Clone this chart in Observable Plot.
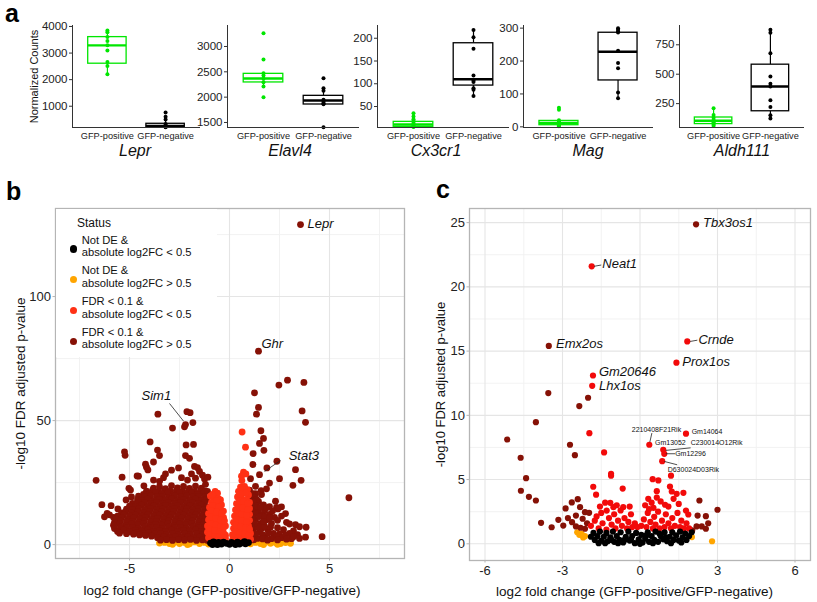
<!DOCTYPE html>
<html><head><meta charset="utf-8">
<script src="https://cdn.jsdelivr.net/npm/d3@7"></script>
<script src="https://cdn.jsdelivr.net/npm/@observablehq/plot@0.6"></script>
<style>
body{margin:0;background:#fff;font-family:"Liberation Sans",Arial,Helvetica,sans-serif;}
#root{position:relative;width:817px;height:602px;overflow:hidden;background:#fff;}
#root svg{position:absolute;}
</style></head><body><div id="root"></div>
<script>
// ---------------- DATA: panel a ----------------
const genes = ["Lepr","Elavl4","Cx3cr1","Mag","Aldh111"];
const groups = ["GFP-positive","GFP-negative"];
const yLabelA = "Normalized Counts";
// box stats: [lower whisker, q1, median, q3, upper whisker]
const boxPos = [[2200,2600,3290,3600,3850],[2210,2290,2368,2460,2473],[5,5.4,10.6,16.3,28],[2,5,12,18,20],[60,76,104,132,210]];
const boxNeg = [[210,212,260,340,500],[1855,1855,1934,2026,2178],[73,96,110,189,218],[87,141,228,286,300],[123,185,396,581,877]];
const ptsPos = [[3850,3780,3600,3450,3290,3100,2660,2510,2200],[3263,2743,2473,2427,2362,2296,2210,1999],[35,28,22,18,14,11,8,6,5],[58,52,20,16,12,10,8,5,2],[210,153,130,110,100,90,80,70,60]];
const ptsNeg = [[765,600,500,330,280,250,230,215,212],[2375,2178,2126,1947,1910,1880,1860,1408],[218,202,177,118,107,104,90,87,73],[300,295,290,287,231,194,178,104,87],[877,852,679,481,419,396,278,221,151,123]];
const yTicksA = [[1000,2000,3000,4000],[1500,2000,2500,3000],[50,100,150,200],[0,100,200,300],[250,500,750]];
const yDomainsA = [[200,4037],[1401,3414],[3.9,228],[-2,308],[47,914]];

// ---------------- DATA: panel b ----------------
const statusLabels = [["Not DE &","absolute log2FC < 0.5"],["Not DE &","absolute log2FC > 0.5"],["FDR < 0.1 &","absolute log2FC < 0.5"],["FDR < 0.1 &","absolute log2FC > 0.5"]];
const bBlack = [[-0.95,0.6],[-0.8,1.1],[-0.7,0.3],[-0.55,0.9],[-0.4,0.2],[-0.3,1.0],[-0.15,0.5],[0.0,0.1],[0.1,0.9],[0.25,0.4],[0.4,1.0],[0.5,0.2],[0.65,0.7],[0.8,0.3],[0.95,0.8],[-0.6,0.0],[0.3,0.0],[0.75,1.2],[-0.85,0.0]];
const bOrange = [[-3.5,0.6],[-3.25,0.9],[-3.0,0.4],[-2.75,1.0],[-2.5,0.4],[-2.25,0.9],[-2.0,0.3],[-1.75,1.1],[-1.5,0.4],[-1.25,0.9],[-1.05,0.2],[-2.85,0.1],[-2.1,0.0],[1.05,0.3],[1.3,0.9],[1.55,0.4],[1.8,1.0],[2.05,0.5],[2.3,0.9],[2.55,0.4],[2.8,0.8],[3.05,0.5],[1.7,0.0],[2.4,0.1]];
const bRed = [[-0.72,21.5],[-0.6,20.7],[-0.8,19],[-0.55,18.5],[-0.95,19.5],[-0.45,18],[-0.9,17],[-0.65,16.5],[-0.4,16],[-1.0,15],[-0.75,14.5],[-0.5,14],[-0.3,13.5],[-1.05,12.5],[-0.8,12],[-0.55,11.5],[-0.3,11],[-1.05,10],[-0.85,9.5],[-0.6,9],[-0.35,8.5],[-0.2,7.5],[-1.1,7.5],[-0.85,7],[-0.6,6.5],[-0.4,6],[-1.1,5],[-0.9,4.5],[-0.65,4],[-0.4,3.5],[-0.2,3.8],[-1.05,2.8],[-0.8,2.3],[-0.55,2],
[-0.85,20.2],[-0.65,17.6],[-0.85,15.8],[-0.55,15.2],[-0.9,13.6],[-0.65,13.2],[-0.4,12.5],[-0.95,11.2],[-0.7,10.6],[-0.45,10],[-0.25,9.6],[-0.95,8.3],[-0.7,7.8],[-0.45,7.2],[-0.3,6.8],[-1.0,6.2],[-0.75,5.7],[-0.5,5],[-0.3,4.8],[-1.0,3.8],[-0.75,3.3],[-0.55,3],[-0.3,2.6],[-0.95,1.9],[-0.65,1.6],[-0.4,1.6],[-0.2,2.4],
[0.63,45.4],[0.8,39.3],[0.7,29.2],[0.82,28.5],[0.6,27.6],[0.62,25.8],[0.55,23.2],[0.75,23.5],[0.9,22.2],[0.45,21.5],[0.7,21],[0.95,20],[0.4,19.2],[0.6,18.6],[0.85,18.2],[1.0,17],[0.35,16.5],[0.55,16],[0.8,15.5],[1.0,14.6],[0.3,14],[0.5,13.5],[0.75,13],[1.0,12.2],[0.25,11.5],[0.5,11],[0.75,10.5],[1.0,9.8],[0.2,9],[0.45,8.5],[0.7,8],[0.95,7.5],[0.2,6.5],[0.4,6],[0.65,5.5],[0.9,5],[1.05,4.5],[0.15,4],[0.35,3.5],[0.6,3],[0.85,2.8],[1.05,2.2],[0.25,2.2],[0.5,2],
[0.65,22.3],[0.8,20.8],[0.55,20.3],[0.5,17.6],[0.7,17.3],[0.9,16.5],[0.45,15],[0.65,14.8],[0.9,14],[0.4,12.6],[0.6,12.2],[0.85,11.8],[0.35,10.2],[0.6,9.6],[0.85,9],[0.3,7.8],[0.55,7.2],[0.8,6.8],[1.0,6.2],[0.3,5.2],[0.5,4.6],[0.75,4.2],[0.95,3.6],[0.2,3],[0.45,2.6],[0.7,1.8],[0.95,1.6],[0.15,1.7],[0.35,1.5]];
const bDarkRed = [[3.55,129],[1.45,78],[2.47,64.3],[2.9,66.3],[3.72,65.4],[1.25,61.2],[1.45,55.3],[1.35,52.6],[3.63,53.9],[3.8,49.3],[1.57,45.9],[1.7,42.8],[1.5,40.8],[1.72,38],[1.18,36.7],[2.37,33.6],[1.17,32.3],[1.87,30.9],[3.3,30.2],[1.5,28.2],[1.05,26.6],[2.5,26.6],[3.58,25.9],[3.17,23.9],[5.97,18.9],[3.83,7],[3.8,3],[4.63,3.2],[2.0,24.8],[1.58,21.8],
[1.3,23.5],[1.85,22.5],[1.0,22],[1.3,20.5],[1.6,20.2],[1.25,19],[2.3,17.5],[1.05,18],[1.45,17.4],[1.7,16],[1.1,16],[2.0,15.3],[2.35,15],[2.6,15.2],[1.2,14],[1.45,13.2],[2.42,14.4],[1.75,13.5],[2.8,12.5],[1.1,12],[1.6,11.8],[2.0,12.2],[2.25,11],[2.6,11.5],[1.3,10],[1.85,10],[1.15,9],[1.55,8.5],[2.1,8.5],[2.85,9],[3.0,8.3],[3.3,8],[3.5,7.2],[1.0,8],[2.4,6.8],[1.9,6.2],[1.2,6],[1.6,6.5],[2.7,6],[3.2,5.5],[1.5,5],[2.2,4.5],[2.5,4.3],[3.0,4.5],[3.4,4],[1.1,3.5],[1.8,3.2],[1.4,2.5],[2.1,2.4],[2.6,2.8],[3.5,2.5],[3.1,2.4],
[1.15,20.5],[1.35,18.2],[1.2,17.2],[1.35,15.5],[1.55,15],[1.85,14.8],[1.3,12.5],[1.5,11.3],[1.75,11.2],[2.15,13.5],[1.4,7.2],[1.75,7.5],[2.05,7],[1.3,4.2],[1.65,4],[1.95,4.8],[2.35,3.2],[2.8,3.8],[1.25,8.5],[1.7,9.3],[2.4,9.8],[2.0,10.8],[1.15,10.8],[1.05,13.5],[1.05,5.5],[1.1,7],[1.65,2.3],[2.85,2.2],[1.2,1.9],[1.9,1.8],[2.4,1.9],[3.2,3.2],
[-6.67,25.9],[-6.38,16.1],[-6.12,12.6],[-5.92,15.7],[-5.58,14.4],[-5.37,27.2],[-5.22,36],[-5.25,37.4],[-4.95,22],[-4.55,27.6],[-4.15,31.2],[-4.2,32.4],[-3.97,41.4],[-3.6,38.1],[-3.5,35.9],[-3.8,33.3],[-4.08,30.1],[-3.58,52.6],[-2.85,47],[-2.13,53.6],[-1.97,53.2],[-2.2,48.4],[-2.25,47.5],[-1.83,49.2],[-2.17,40.2],[-1.8,40.4],[-2.2,35.9],[-2.0,34.8],[-2.55,30.9],[-1.75,31.5],[-1.6,31],[-1.5,29.5],[-1.35,28],[-1.25,26.5],[-1.08,27.2],[-3.8,26],[-3.5,25.5],[-3.3,27],[-4.62,27.7],[-5.03,22.7],[-4.28,23.7],[-5.17,18],[-4.9,19.2],[-6.0,12],[-5.8,11],[-6.25,11.2],[-2.9,30],[-3.2,28.5],[-2.4,27],[-2.1,26],[-1.9,28.5],[-1.7,26.8],
[-3.8,22.8],[-3.5,23.4],[-3.2,22.6],[-2.9,23.8],[-2.6,22.9],[-2.3,23.5],[-2.0,22.7],[-1.7,23.6],[-1.4,22.8],[-1.2,24.3],
[-4.15,21.6],[-3.85,21.9],[-3.55,21.5],[-3.25,22.0],[-2.95,21.6],[-2.65,21.9],[-2.35,21.5],[-2.05,21.8],[-1.75,21.4],[-1.45,21.9],[-1.2,21.6],
[-4.3,20.2],[-4.0,20.3],[-3.7,21],[-3.4,20.4],[-3.1,20.8],[-2.8,20.1],[-2.5,20.9],[-2.2,20.3],[-1.9,20.8],[-1.6,20.2],[-1.3,20.7],[-1.1,21.5],
[-4.55,19.5],[-4.25,19.1],[-3.95,19.6],[-3.65,19.2],[-3.35,19.4],[-3.05,19.0],[-2.75,19.5],[-2.45,19.2],[-2.15,19.6],[-1.85,19.1],[-1.55,19.4],[-1.25,19.2],
[-4.6,18.0],[-4.4,17.8],[-4.1,18.3],[-3.8,17.6],[-3.5,18.2],[-3.2,17.9],[-2.9,18.4],[-2.6,17.7],[-2.3,18.1],[-2.0,17.6],[-1.7,18.3],[-1.4,17.8],[-1.15,18.2],
[-4.85,16.6],[-4.55,17.0],[-4.25,16.9],[-3.95,16.6],[-3.65,17.0],[-3.35,16.5],[-3.05,16.9],[-2.75,16.6],[-2.45,17.0],[-2.15,16.5],[-1.85,16.9],[-1.55,16.6],[-1.25,17.0],
[-5.0,15.5],[-4.7,15.3],[-4.4,15.9],[-4.1,15.1],[-3.8,15.6],[-3.5,15.2],[-3.2,15.8],[-2.9,15.3],[-2.6,15.7],[-2.3,15.1],[-2.0,15.6],[-1.7,15.2],[-1.4,15.9],[-1.15,15.3],
[-5.15,14.3],[-4.85,14.1],[-4.55,14.4],[-4.25,14.0],[-3.95,14.5],[-3.65,14.1],[-3.35,14.3],[-3.05,14.0],[-2.75,14.5],[-2.45,14.1],[-2.15,14.4],[-1.85,14.0],[-1.55,14.5],[-1.25,14.2],
[-5.4,12.8],[-5.2,13.3],[-4.9,12.7],[-4.6,13.2],[-4.3,12.9],[-4.0,13.4],[-3.7,12.7],[-3.4,13.1],[-3.1,12.8],[-2.8,13.3],[-2.5,12.7],[-2.2,13.2],[-1.9,12.9],[-1.6,13.4],[-1.3,12.8],[-1.1,13.2],
[-5.6,11.5],[-5.3,12.0],[-5.0,11.6],[-4.7,11.9],[-4.4,11.5],[-4.1,12.0],[-3.8,11.6],[-3.5,11.9],[-3.2,11.5],[-2.9,12.0],[-2.6,11.6],[-2.3,11.9],[-2.0,11.5],[-1.7,12.0],[-1.4,11.6],[-1.15,11.9],
[-5.7,10.3],[-5.4,10.8],[-5.1,10.2],[-4.8,10.7],[-4.5,10.4],[-4.2,10.9],[-3.9,10.2],[-3.6,10.6],[-3.3,10.3],[-3.0,10.8],[-2.7,10.2],[-2.4,10.7],[-2.1,10.4],[-1.8,10.9],[-1.5,10.3],[-1.2,10.7],
[-5.75,9.0],[-5.45,9.5],[-5.15,9.1],[-4.85,9.4],[-4.55,9.0],[-4.25,9.5],[-3.95,9.1],[-3.65,9.4],[-3.35,9.0],[-3.05,9.5],[-2.75,9.1],[-2.45,9.4],[-2.15,9.0],[-1.85,9.5],[-1.55,9.1],[-1.25,9.4],
[-5.8,7.8],[-5.5,8.3],[-5.2,7.7],[-4.9,8.2],[-4.6,7.9],[-4.3,8.4],[-4.0,7.7],[-3.7,8.1],[-3.4,7.8],[-3.1,8.3],[-2.8,7.7],[-2.5,8.2],[-2.2,7.9],[-1.9,8.4],[-1.6,7.7],[-1.3,8.1],[-1.1,7.6],
[-5.75,6.5],[-5.45,7.0],[-5.15,6.6],[-4.85,6.9],[-4.55,6.5],[-4.25,7.0],[-3.95,6.6],[-3.65,6.9],[-3.35,6.5],[-3.05,7.0],[-2.75,6.6],[-2.45,6.9],[-2.15,6.5],[-1.85,7.0],[-1.55,6.6],[-1.25,6.9],
[-5.6,5.3],[-5.3,5.8],[-5.0,5.2],[-4.7,5.7],[-4.4,5.4],[-4.1,5.9],[-3.8,5.2],[-3.5,5.6],[-3.2,5.3],[-2.9,5.8],[-2.6,5.2],[-2.3,5.7],[-2.0,5.4],[-1.7,5.9],[-1.4,5.3],[-1.15,5.6],
[-5.5,4.6],[-5.15,4.4],[-4.65,4.8],[-4.35,4.5],[-4.05,4.6],[-3.75,4.2],[-3.45,4.4],[-3.15,4.1],[-2.85,4.4],[-2.55,4.0],[-2.25,4.3],[-1.95,4.1],[-1.65,4.4],[-1.35,4.0],[-1.1,4.3],
[-4.8,4.2],[-4.5,3.9],[-4.2,3.7],[-3.9,3.4],[-3.6,2.8],[-3.3,3.1],[-3.0,2.7],[-2.7,3.2],[-2.4,2.8],[-2.1,3.1],[-1.8,2.6],[-1.5,3.0],[-1.2,2.7],
[-3.45,1.8],[-3.15,2.0],[-2.85,1.7],[-2.55,2.0],[-2.25,1.8],[-1.95,2.1],[-1.65,1.7],[-1.35,1.9],[-1.1,1.7]];
const bLabels = [{name:"Lepr",x:3.9,y:129.3},{name:"Ghr",x:1.6,y:81},{name:"Sim1",x:-4.4,y:60},{name:"Stat3",x:2.96,y:35.6}];
const bLeaders = [{x1:-3.0,y1:56.9,x2:-2.3,y2:49.8},{x1:2.55,y1:33.9,x2:1.75,y2:29.5}];

// ---------------- DATA: panel c ----------------
const cBlack = [[-1.9,0.55],[-1.8,0.85],[-1.75,0.3],[-1.65,0.6],[-1.55,0.95],[-1.5,0.25],[-1.4,0.55],[-1.3,0.85],[-1.25,0.2],[-1.15,0.5],[-1.05,0.95],[-1.0,0.15],[-0.9,0.6],[-0.8,0.3],[-0.75,0.9],[-0.65,0.1],[-0.55,0.55],[-0.45,0.95],[-0.4,0.25],[-0.3,0.6],[-0.2,0.05],[-0.15,0.85],[-0.05,0.35],[0.05,0.7],[0.1,0.1],[0.2,0.4],[0.3,0.9],[0.35,0.15],[0.45,0.6],[0.55,0.3],[0.6,0.95],[0.7,0.15],[0.8,0.6],[0.9,0.35],[0.95,0.9],[1.05,0.2],[1.15,0.55],[1.25,0.9],[1.3,0.3],[1.4,0.65],[1.5,0.25],[1.55,0.95],[1.65,0.5],[1.75,0.8],[1.8,0.3],[1.9,0.6],[2.0,0.9],[-1.6,0.05],[-1.1,0.3],[-0.6,0.3],[0.0,0.0],[0.5,0.05],[1.0,0.5],[1.6,0.1],[-0.85,0.05],[0.25,0.65],[-0.35,0.35],[0.75,0.8],[-1.35,0.05],[1.2,0.05]];
const cOrange = [[-2.43,0.9],[-2.26,0.78],[-2.13,0.59],[-2.35,0.7],[-2.2,0.5],[2.01,0.52],[2.79,0.2]];
const cRed = [[-1.87,21.6],[1.83,15.75],[1.41,14.1],[-1.82,13.1],[-1.85,12.3],[0.36,7.71],[1.78,8.57],[0.9,7.32],[0.94,7.0],[0.86,6.43],
[-1.96,8.61],[-1.39,7.11],[-1.12,5.45],[-1.12,5.3],[-1.81,4.44],[-0.67,4.3],[-1.7,3.82],[-1.15,3.19],[-1.03,2.85],[-0.65,2.85],[-1.68,2.13],[-1.29,2.59],
[0.49,5.03],[0.71,4.93],[1.2,5.3],[0.65,4.1],[1.16,4.46],[1.23,4.07],[1.68,3.97],[0.32,3.5],[1.42,3.89],[0.97,3.04],[0.52,2.8],[1.78,2.59],[1.87,2.28],
[-1.9,1.4],[-1.75,1.8],[-1.6,1.2],[-1.5,2.4],[-1.45,1.6],[-1.3,1.1],[-1.2,2.0],[-1.1,1.5],[-1.0,2.3],[-0.95,1.2],[-0.85,1.8],[-0.75,2.6],[-0.7,1.4],[-0.6,2.0],[-0.5,1.2],[-0.45,1.7],[-0.35,2.3],[-0.3,1.3],[-0.2,1.6],[-1.55,2.9],[-1.35,3.2],[-0.9,3.0],[-0.4,2.9],[-0.1,1.3],
[0.05,1.4],[0.15,1.9],[0.25,1.3],[0.3,2.4],[0.4,1.7],[0.5,1.2],[0.55,2.1],[0.6,1.5],[0.7,2.5],[0.75,1.2],[0.85,1.8],[0.95,1.3],[1.0,2.3],[1.1,1.6],[1.2,1.2],[1.25,2.0],[1.35,1.4],[1.45,2.4],[1.55,1.3],[1.6,1.8],[1.7,1.2],[1.8,1.6],[1.9,1.2],[0.2,3.0],[0.45,3.2],[0.8,3.3],[1.1,2.9],[1.5,3.1],[0.35,2.7],[0.65,3.6],[1.3,3.5]];
const cDarkRed = [[2.17,24.87],[-3.53,15.4],[-3.55,11.73],[-2.01,11.37],[-2.35,10.72],[-4.03,9.47],[-5.14,8.12],[-2.71,7.71],[-2.52,6.9],[-4.62,6.7],[-4.41,5.11],[-4.61,4.13],[-4.3,3.66],[-4.03,3.37],[-2.41,3.47],[-2.64,3.22],[-2.88,2.75],[-2.32,2.85],[-2.13,2.46],[-1.97,2.41],[-2.48,2.2],[-2.22,1.95],[-2.79,2.0],[-2.63,1.68],[-3.16,1.87],[-3.83,1.63],[-3.42,1.29],[-2.97,1.42],[-2.48,1.35],[-2.3,1.25],[-2.13,1.17],[-2.05,1.6],
[2.3,3.37],[3.0,2.65],[2.23,2.2],[2.55,2.15],[2.64,1.6],[2.19,1.35],[2.39,1.35],[2.55,1.17],[2.02,1.04]];
const cLabels = [{name:"Tbx3os1",x:2.44,y:25.0},{name:"Neat1",x:-1.46,y:21.8},{name:"Emx2os",x:-3.25,y:15.6},{name:"Crnde",x:2.26,y:15.9},{name:"Prox1os",x:1.64,y:14.15},{name:"Gm20646",x:-1.59,y:13.4},{name:"Lhx1os",x:-1.59,y:12.3}];
const cSmallLabels = [{name:"2210408F21Rik",x:-0.32,y:8.86},{name:"Gm14064",x:2.0,y:8.75},{name:"Gm13052",x:0.58,y:7.89},{name:"C230014O12Rik",x:1.96,y:7.84},{name:"Gm12296",x:1.36,y:7.01},{name:"D630024D03Rik",x:1.07,y:5.79}];
const cLeaders = [{x1:-1.78,y1:21.6,x2:-1.5,y2:21.7},{x1:1.94,y1:15.75,x2:2.22,y2:15.85},{x1:0.46,y1:8.62,x2:0.38,y2:7.91},{x1:1.96,y1:7.47,x2:1.0,y2:7.27},{x1:1.36,y1:7.01,x2:1.0,y2:7.01},{x1:1.44,y1:6.15,x2:0.94,y2:6.41}];

const xTitle = "log2 fold change (GFP-positive/GFP-negative)";
const yTitle = "-log10 FDR adjusted p-value";

// ---------------- STYLE / LAYOUT ----------------
const FONT = "'Liberation Sans', Arial, Helvetica, sans-serif";
const GREEN = "#00e600", BLACK = "#000000", ORANGE = "#ffa500", RED_B = "#ff3115", RED_C = "#f20a0a", DARKRED = "#861106";
const root = document.getElementById("root");
function addText(txt, left, top, css) {
  const d = document.createElement("div");
  d.textContent = txt;
  d.style.cssText = "position:absolute;white-space:nowrap;line-height:1;left:" + left + "px;top:" + top + "px;" + css;
  root.appendChild(d); return d;
}
function place(svg, left, top) { svg.style.left = left + "px"; svg.style.top = top + "px"; root.appendChild(svg); }

// ---- panel a ----
const aLayout = [{axisX:72,unit:58,titleX:135},{axisX:227,unit:60,titleX:290},{axisX:377,unit:60,titleX:436},{axisX:523,unit:59,titleX:588},{axisX:679,unit:57,titleX:742}];
const ML = 44, MR = 6, ATOP = 20, AH = 126, AMT = 5, AMB = 19;
genes.forEach((g, i) => {
  const L = aLayout[i];
  const pw = L.unit * 2.2;
  const dom = yDomainsA[i];
  const boxes = [{pos:1, s:boxPos[i], c:GREEN}, {pos:2, s:boxNeg[i], c:BLACK}];
  const pts = [...ptsPos[i].map(v => ({pos:1, v, c:GREEN})), ...ptsNeg[i].map(v => ({pos:2, v, c:BLACK}))];
  const bw = 0.33;
  const marks = [
    Plot.ruleX(boxes, {x:"pos", y1:d => d.s[0], y2:d => d.s[1], stroke:"c", strokeWidth:1.2}),
    Plot.ruleX(boxes, {x:"pos", y1:d => d.s[3], y2:d => d.s[4], stroke:"c", strokeWidth:1.2}),
    Plot.rect(boxes, {x1:d => d.pos - bw, x2:d => d.pos + bw, y1:d => d.s[1], y2:d => d.s[3], fill:"white", stroke:"c", strokeWidth:1.3}),
    Plot.ruleY(boxes, {x1:d => d.pos - bw, x2:d => d.pos + bw, y:d => d.s[2], stroke:"c", strokeWidth:2.4}),
    Plot.dot(pts, {x:"pos", y:"v", r:2, fill:"c"}),
    Plot.ruleY([dom[0]], {stroke:"#333", strokeWidth:1}),
    Plot.ruleX([0.4], {stroke:"#333", strokeWidth:1}),
    Plot.axisY({ticks:yTicksA[i], tickSize:3, tickPadding:2, fontSize:11.5, tickFormat:d => String(d), stroke:"#333", fill:"#222", label:null}),
    Plot.axisX({ticks:[1,2], tickFormat:d => groups[d-1], tickSize:0, tickPadding:5, fontSize:9.2, fill:"#222", label:null})
  ];
  if (i === 0) marks.push(Plot.text([yLabelA], {text:d => d, frameAnchor:"left", dx:-38, rotate:-90, textAnchor:"middle", lineAnchor:"middle", fontSize:11, fill:"#111"}));
  const chart = Plot.plot({
    width: Math.round(ML + pw + MR), height: AH,
    marginLeft: ML, marginRight: MR, marginTop: AMT, marginBottom: AMB,
    style: {fontFamily: FONT, background: "transparent", overflow: "visible"},
    x: {domain:[0.4, 2.6], axis:null}, y: {domain: dom, axis:null},
    marks
  });
  place(chart, L.axisX - ML, ATOP);
  addText(g, L.titleX, 143, "font-size:16px;font-style:italic;transform:translateX(-50%);color:#111;");
});

// ---- volcano builder ----
function volcano(o) {
  const xy = {x:d => d[0], y:d => d[1]};
  return Plot.plot({
    width: o.width, height: o.height,
    marginLeft: o.ml, marginRight: o.mr, marginTop: o.mt, marginBottom: o.mb,
    style: {fontFamily: FONT, background: "transparent", overflow: "visible"},
    x: {domain: o.xDomain, axis:null}, y: {domain: o.yDomain, axis:null},
    marks: [
      Plot.ruleX(o.xMinor, {stroke:"#f1f1f1", strokeWidth:0.9}),
      Plot.ruleY(o.yMinor, {stroke:"#f1f1f1", strokeWidth:0.9}),
      Plot.ruleX(o.xMajor, {stroke:"#e5e5e5", strokeWidth:1.1}),
      Plot.ruleY(o.yMajor, {stroke:"#e5e5e5", strokeWidth:1.1}),
      ...o.layers.map(l => Plot.dot(l.pts, {...xy, r:o.r, fill:l.color})),
      Plot.link(o.leaders, {x1:"x1", y1:"y1", x2:"x2", y2:"y2", stroke:"#222", strokeWidth:0.8}),
      Plot.text(o.labels, {x:"x", y:"y", text:"name", textAnchor:"start", fontStyle:"italic", fontSize:13, fill:"#111"}),
      Plot.text(o.smallLabels || [], {x:"x", y:"y", text:"name", textAnchor:"start", fontSize:7, fill:"#111"}),
      Plot.frame({stroke:"#b5b5b5", strokeWidth:1.3}),
      Plot.axisX({ticks:o.xMajor, tickSize:2.5, tickPadding:3, tickFormat:d => String(d), fontSize:o.tickFont, stroke:"#b5b5b5", fill:"#222", label:null}),
      Plot.axisY({ticks:o.yMajor, tickSize:2.5, tickPadding:2, tickFormat:d => String(d), fontSize:o.tickFont, stroke:"#b5b5b5", fill:"#222", label:null}),
      Plot.text([xTitle], {text:d => d, frameAnchor:"bottom", dx:o.xtDx, dy:o.xtDy, textAnchor:"middle", lineAnchor:"middle", fontSize:13.5, fill:"#111"}),
      Plot.text([yTitle], {text:d => d, frameAnchor:"left", dx:o.ytDx, rotate:-90, textAnchor:"middle", lineAnchor:"middle", fontSize:o.ytFont, fill:"#111"})
    ]
  });
}

// ---- panel b ----
const chartB = volcano({
  width:410, height:402, ml:55, mr:6, mt:8, mb:44,
  xDomain:[-8.7, 8.75], yDomain:[-5.6, 135.5],
  xMajor:[-5,0,5], xMinor:[-7.5,-2.5,2.5,7.5], yMajor:[0,50,100], yMinor:[25,75,125],
  layers:[{pts:bOrange,color:ORANGE},{pts:bDarkRed,color:DARKRED},{pts:bRed,color:RED_B},{pts:bBlack,color:BLACK}],
  r:3.4, labels:bLabels, leaders:bLeaders, tickFont:13,
  xtDx:-8, xtDy:32, ytDx:-35, ytFont:13.5
});
place(chartB, 0, 200);

// legend for b (HTML overlay)
const leg = document.createElement("div");
leg.style.cssText = "position:absolute;left:56px;top:209px;width:161px;height:148px;background:#fff;";
root.appendChild(leg);
addText("Status", 77, 217, "font-size:12px;color:#111;");
const statusColors = [BLACK, ORANGE, RED_B, DARKRED];
statusLabels.forEach((lab, i) => {
  const cy = 249 + i * 30.7;
  const dot = document.createElement("div");
  dot.style.cssText = `position:absolute;left:${69.8}px;top:${cy - 3.6}px;width:7.2px;height:7.2px;border-radius:50%;background:${statusColors[i]};`;
  root.appendChild(dot);
  lab.forEach((s, k) => {
    addText(s, 81.7, cy - 14.5 + k * 12.6, "font-size:11.2px;line-height:11px;height:11px;color:#111;");
  });
});

// ---- panel c ----
const chartC = volcano({
  width:397, height:402, ml:49, mr:7, mt:8, mb:42,
  xDomain:[-6.6, 6.6], yDomain:[-1.3, 26.1],
  xMajor:[-6,-3,0,3,6], xMinor:[-4.5,-1.5,1.5,4.5], yMajor:[0,5,10,15,20,25], yMinor:[2.5,7.5,12.5,17.5,22.5],
  layers:[{pts:cOrange,color:ORANGE},{pts:cDarkRed,color:DARKRED},{pts:cRed,color:RED_C},{pts:cBlack,color:BLACK}],
  r:3.1, labels:cLabels, smallLabels:cSmallLabels, leaders:cLeaders, tickFont:13,
  xtDx:-5.5, xtDy:31, ytDx:-29, ytFont:13
});
place(chartC, 420, 200);

// panel letters
addText("a", 5, 1, "font-size:25px;font-weight:bold;color:#000;");
addText("b", 6, 179, "font-size:25px;font-weight:bold;color:#000;");
addText("c", 436, 177, "font-size:25px;font-weight:bold;color:#000;");
</script></body></html>
